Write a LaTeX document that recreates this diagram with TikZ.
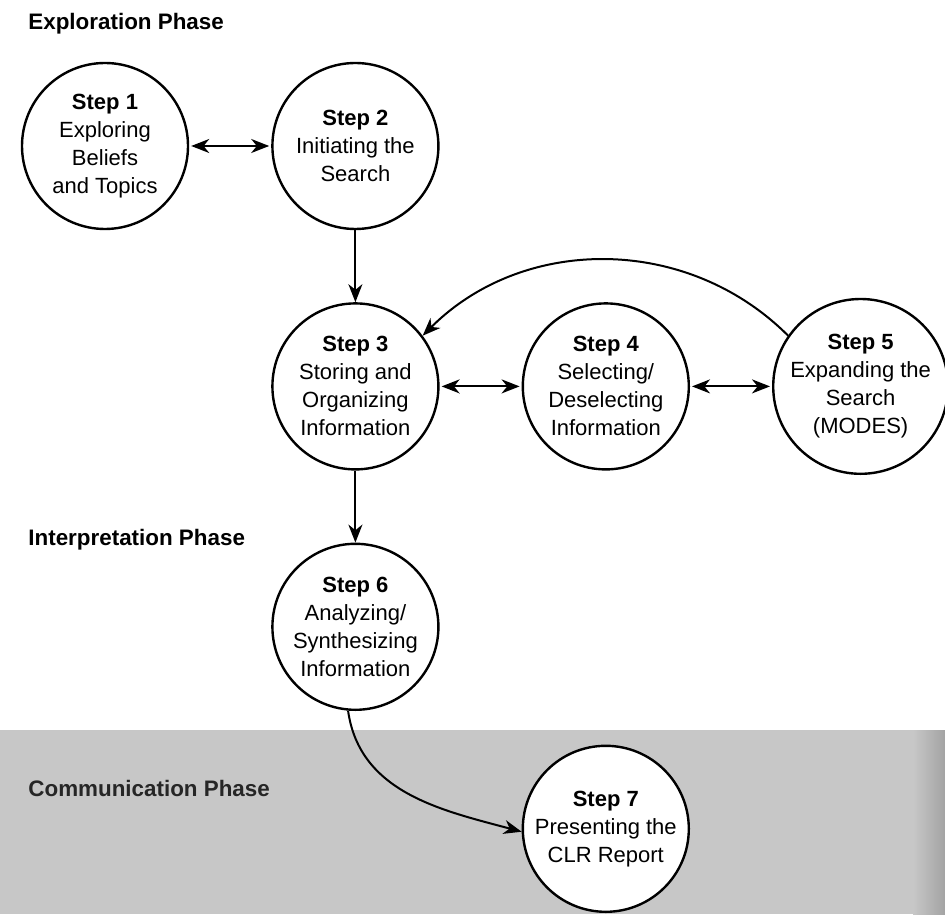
\documentclass[tikz,border=0pt]{standalone}
\usepackage{fontspec}
\setmainfont{Liberation Sans}
\usetikzlibrary{positioning, arrows.meta}
\tikzset{
  stepnode/.style={circle, draw, line width=1.2pt, fill=white, minimum size=83pt, inner sep=0pt, align=center, font=\fontsize{11}{14}\selectfont},
  phase/.style={anchor=west, inner sep=0pt, font=\fontsize{11.2}{13}\selectfont\bfseries},
  arrow/.style={-{Stealth[length=9pt, width=7pt, inset=2.8pt]}, line width=1pt},
}

\begin{document}
\begin{tikzpicture}[node distance=36pt and 41pt]
  \tikzset{
    biarrow/.style={{Stealth[length=9pt, width=7pt, inset=2.8pt]}-{Stealth[length=9pt, width=7pt, inset=2.8pt]}, line width=1pt, shorten <=1pt, shorten >=1pt},
    band/.style={fill=black!22, draw=none},
  }
  \useasboundingbox (-52.5pt,73pt) rectangle (420pt,-384pt);

  % Shaded band behind the last phase
  \fill[band] (-52.5pt,-292pt) rectangle (420pt,-384pt);
  \shade[left color=black!22, right color=black!36] (404pt,-292pt) rectangle (420pt,-384pt);

  % Phase labels
  \node[phase] (explore) at (-38.5pt,61pt) {Exploration Phase};
  \node[phase] (interpret) at (-38.5pt,-197pt) {Interpretation Phase};
  \node[phase, text=black!85] (communicate) at (-38.5pt,-321pt) {Communication Phase};

  % Nodes
  \node[stepnode] (step1) {\textbf{Step 1}\\Exploring\\Beliefs\\and Topics};
  \node[stepnode, right=of step1] (step2) {\textbf{Step 2}\\Initiating the\\Search};
  \node[stepnode, below=of step2] (step3) {\textbf{Step 3}\\Storing and\\Organizing\\Information};
  \node[stepnode, right=of step3] (step4) {\textbf{Step 4}\\Selecting/\\Deselecting\\Information};
  \node[stepnode, right=of step4] (step5) {\textbf{Step 5}\\Expanding the\\Search\\(MODES)};
  \node[stepnode, below=of step3] (step6) {\textbf{Step 6}\\Analyzing/\\Synthesizing\\Information};
  \node[stepnode, below=137pt of step4] (step7) {\textbf{Step 7}\\Presenting the\\CLR Report};

  % Arrows
  \draw[biarrow] (step1) -- (step2);
  \draw[arrow] (step2) -- (step3);
  \draw[biarrow] (step3) -- (step4);
  \draw[biarrow] (step4) -- (step5);
  \draw[arrow] (step5.145) to[out=135, in=45] (step3.37);
  \draw[arrow] (step3) -- (step6);
  \draw[arrow] (step6.265) to[out=-82, in=165] (step7.182);

\end{tikzpicture}
\end{document}
